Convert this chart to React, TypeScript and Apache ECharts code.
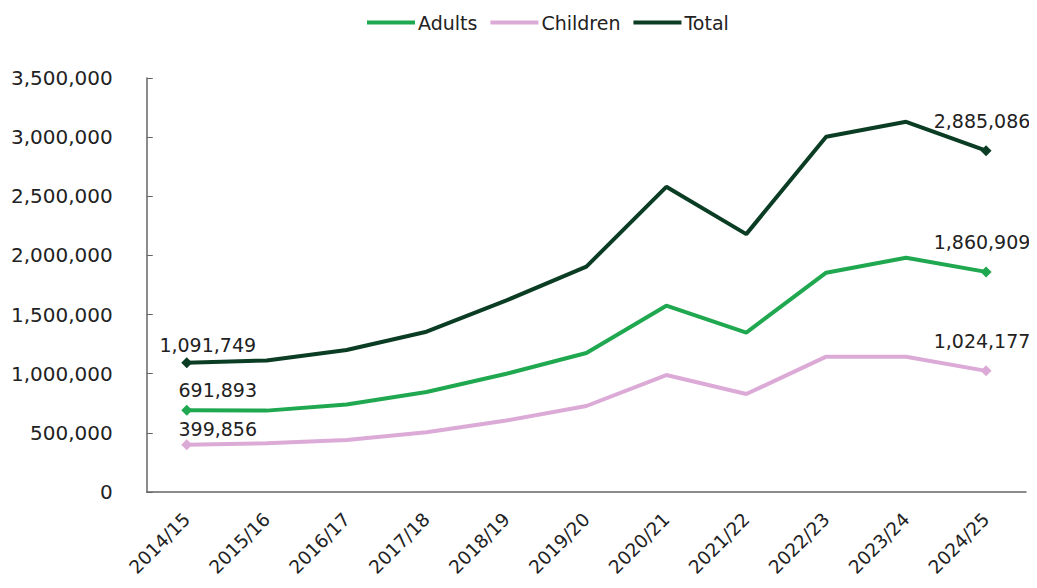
import React, { useEffect, useRef } from "react";
import * as echarts from "echarts";

const categories = ["2014/15","2015/16","2016/17","2017/18","2018/19","2019/20","2020/21","2021/22","2022/23","2023/24","2024/25"];
const adults = [691893, 688000, 740000, 845000, 1000000, 1175000, 1575000, 1347000, 1854000, 1980000, 1860909];
const children = [399856, 412000, 440000, 505000, 605000, 727000, 989000, 828000, 1144000, 1144000, 1024177];
const total = [1091749, 1112000, 1200000, 1355000, 1620000, 1905000, 2580000, 2180000, 3004000, 3130000, 2885086];
const yTicks = [0, 500000, 1000000, 1500000, 2000000, 2500000, 3000000, 3500000];

const fmt = (v: number) => v.toLocaleString("en-US");
const FONT = "DejaVu Sans, Liberation Sans, Arial, sans-serif";

function makeData(values: number[], firstOffset: number[], lastOffset: number[]) {
  return values.map((v, i) => {
    if (i === 0 || i === values.length - 1) {
      return {
        value: v,
        symbol: "diamond",
        symbolSize: 11,
        label: {
          show: true,
          position: "top",
          offset: i === 0 ? firstOffset : lastOffset,
          formatter: (p: any) => fmt(p.value),
          fontFamily: FONT,
          fontSize: 19,
          color: "#222",
        },
      };
    }
    return { value: v, symbol: "none" };
  });
}

export default function App() {
  const ref = useRef<HTMLDivElement>(null);
  useEffect(() => {
    if (!ref.current) return;
    const chart = echarts.init(ref.current, undefined, { renderer: "svg" });
    chart.setOption({
      animation: false,
      textStyle: { fontFamily: FONT },
      legend: {
        top: 0,
        left: 354,
        itemWidth: 48,
        itemHeight: 4,
        itemGap: 13,
        icon: "rect",
        textStyle: { fontSize: 19, color: "#222", fontFamily: FONT, padding: [0, 0, 0, -2] },
        data: ["Adults", "Children", "Total"],
      },
      grid: { left: 138, right: 3, top: 70, bottom: 88, containLabel: false },
      xAxis: {
        type: "category",
        data: categories,
        boundaryGap: true,
        axisLine: { lineStyle: { color: "#666", width: 1.5 } },
        axisTick: { show: false },
        axisLabel: { rotate: 45, fontSize: 18.5, color: "#222", margin: 24, fontFamily: FONT },
      },
      yAxis: {
        type: "value",
        min: 0,
        max: 3500000,
        interval: 500000,
        splitLine: { show: false },
        axisLine: { show: true, lineStyle: { color: "#666", width: 1.5 } },
        axisTick: { show: true, inside: true, length: 6, lineStyle: { color: "#666" } },
        axisLabel: {
          fontSize: 20,
          color: "#222",
          margin: 34,
          fontFamily: FONT,
          formatter: (v: number) => (yTicks.includes(v) ? fmt(v) : ""),
        },
      },
      series: [
        {
          name: "Adults",
          type: "line",
          data: makeData(adults, [31, 0], [-4, -10]),
          lineStyle: { color: "#1fa84f", width: 4 },
          itemStyle: { color: "#1fa84f" },
          color: "#1fa84f",
          showSymbol: true,
          z: 3,
        },
        {
          name: "Children",
          type: "line",
          data: makeData(children, [31, 4], [-4, -10]),
          lineStyle: { color: "#dcaad6", width: 4 },
          itemStyle: { color: "#dcaad6" },
          color: "#dcaad6",
          showSymbol: true,
          z: 2,
        },
        {
          name: "Total",
          type: "line",
          data: makeData(total, [21, 2], [-4, -10]),
          lineStyle: { color: "#0b3d24", width: 4 },
          itemStyle: { color: "#0b3d24" },
          color: "#0b3d24",
          showSymbol: true,
          z: 4,
        },
      ],
    });
    return () => chart.dispose();
  }, []);
  return <div ref={ref} style={{ width: 1021, height: 572 }} />;
}
